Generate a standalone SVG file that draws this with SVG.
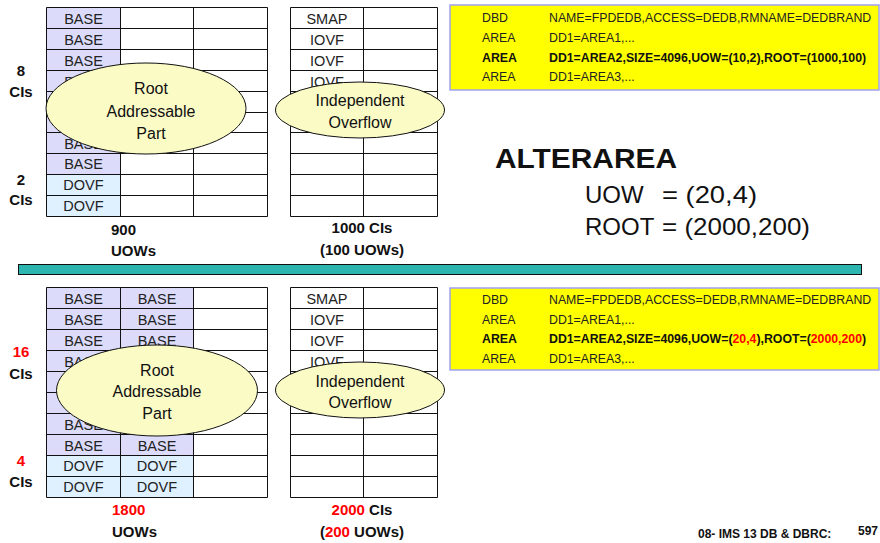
<svg xmlns="http://www.w3.org/2000/svg" width="880" height="543" viewBox="0 0 880 543">
<style>
text{font-family:"Liberation Sans",Arial,Helvetica,sans-serif;}
.grid{fill:none;stroke:#111;stroke-width:1;}
.base{fill:#dcdcfa;}
.dovf{fill:#dff0ff;}
.cell{font-size:14.5px;fill:#222;text-anchor:middle;}
.ell{fill:#fbfbc6;stroke:#111;stroke-width:1;}
.et{font-size:16px;fill:#111;text-anchor:middle;}
.lbl{font-size:15px;font-weight:bold;fill:#111;text-anchor:middle;}
.lbls{font-size:15px;font-weight:bold;fill:#111;}
.red{fill:#ff0000;}
.ybox{fill:#ffff00;stroke:#a0a0f0;stroke-width:1.5;}
.yt{font-size:12.3px;fill:#222;}
.yb{font-size:12.3px;font-weight:bold;fill:#111;}
.big{font-size:24px;fill:#111;}
.foot{font-size:12px;font-weight:bold;fill:#111;}
</style>

<!-- ===== TOP HALF ===== -->
<g id="top-root-grid">
  <rect class="base" x="46.5" y="7.5" width="74" height="167"/>
  <rect class="dovf" x="46.5" y="174.5" width="74" height="42"/>
  <path class="grid" d="M46.5 7.5H267.5V216.5H46.5Z M120.5 7.5V216.5 M193.5 7.5V216.5 M46.5 28.5H267.5 M46.5 49.5H267.5 M46.5 70.5H267.5 M46.5 91.5H267.5 M46.5 112.5H267.5 M46.5 132.5H267.5 M46.5 153.5H267.5 M46.5 174.5H267.5 M46.5 195.5H267.5"/>
  <text class="cell" x="83.5" y="23.5">BASE</text>
  <text class="cell" x="83.5" y="44.5">BASE</text>
  <text class="cell" x="83.5" y="65.5">BASE</text>
  <text class="cell" x="83.5" y="86.5">BASE</text>
  <text class="cell" x="83.5" y="148.5">BASE</text>
  <text class="cell" x="83.5" y="169">BASE</text>
  <text class="cell" x="83.5" y="189.5">DOVF</text>
  <text class="cell" x="83.5" y="210.5">DOVF</text>
</g>
<g id="top-root-labels">
  <text class="lbl" x="21" y="76">8</text>
  <text class="lbl" x="21" y="97">CIs</text>
  <text class="lbl" x="21" y="185">2</text>
  <text class="lbl" x="21" y="205">CIs</text>
  <text class="lbls" x="111" y="235">900</text>
  <text class="lbls" x="111" y="256">UOWs</text>
</g>
<g id="top-root-ellipse">
  <ellipse class="ell" cx="146" cy="108.5" rx="100" ry="45.5"/>
  <text class="et" x="151" y="94">Root</text>
  <text class="et" x="151" y="116.5">Addressable</text>
  <text class="et" x="151" y="139">Part</text>
</g>

<g id="top-iovf-grid">
  <path class="grid" d="M290.5 7.5H437.5V216.5H290.5Z M363.5 7.5V216.5 M290.5 28.5H437.5 M290.5 49.5H437.5 M290.5 70.5H437.5 M290.5 91.5H437.5 M290.5 112.5H437.5 M290.5 132.5H437.5 M290.5 153.5H437.5 M290.5 174.5H437.5 M290.5 195.5H437.5"/>
  <text class="cell" x="327" y="23.5">SMAP</text>
  <text class="cell" x="327" y="44.5">IOVF</text>
  <text class="cell" x="327" y="65.5">IOVF</text>
  <text class="cell" x="327" y="86.5">IOVF</text>
  <text class="lbl" x="362" y="233">1000 CIs</text>
  <text class="lbl" x="362" y="255">(100 UOWs)</text>
</g>
<g id="top-iovf-ellipse">
  <ellipse class="ell" cx="360" cy="110" rx="84.5" ry="28"/>
  <text class="et" x="360" y="106">Independent</text>
  <text class="et" x="360" y="127.5">Overflow</text>
</g>

<g id="top-dbd">
  <rect class="ybox" x="450" y="5" width="429" height="85"/>
  <text class="yt" x="482" y="22">DBD</text>
  <text class="yt" x="549" y="22">NAME=FPDEDB,ACCESS=DEDB,RMNAME=DEDBRAND</text>
  <text class="yt" x="482" y="42">AREA</text>
  <text class="yt" x="549" y="42">DD1=AREA1,...</text>
  <text class="yb" x="482" y="61.5">AREA</text>
  <text class="yb" x="549" y="61.5">DD1=AREA2,SIZE=4096,UOW=(10,2),ROOT=(1000,100)</text>
  <text class="yt" x="482" y="81">AREA</text>
  <text class="yt" x="549" y="81">DD1=AREA3,...</text>
</g>

<g id="alterarea">
  <text x="495" y="168" font-size="27" font-weight="bold" fill="#111" textLength="182" lengthAdjust="spacingAndGlyphs">ALTERAREA</text>
  <text class="big" x="585" y="203">UOW</text>
  <text class="big" x="662" y="203" textLength="95" lengthAdjust="spacingAndGlyphs">= (20,4)</text>
  <text class="big" x="585" y="235">ROOT</text>
  <text class="big" x="662" y="235" textLength="148" lengthAdjust="spacingAndGlyphs">= (2000,200)</text>
</g>

<g id="divider">
  <rect x="18.5" y="264.5" width="843" height="10" fill="#2db5b0" stroke="#111" stroke-width="1"/>
</g>

<!-- ===== BOTTOM HALF ===== -->
<g id="bottom-root-grid">
  <rect class="base" x="46.5" y="287.5" width="147" height="168"/>
  <rect class="dovf" x="46.5" y="455.5" width="147" height="42"/>
  <path class="grid" d="M46.5 287.5H267.5V497.5H46.5Z M120.5 287.5V497.5 M193.5 287.5V497.5 M46.5 308.5H267.5 M46.5 329.5H267.5 M46.5 350.5H267.5 M46.5 371.5H267.5 M46.5 392.5H267.5 M46.5 413.5H267.5 M46.5 434.5H267.5 M46.5 455.5H267.5 M46.5 476.5H267.5"/>
  <text class="cell" x="83.5" y="303.5">BASE</text><text class="cell" x="157" y="303.5">BASE</text>
  <text class="cell" x="83.5" y="324.5">BASE</text><text class="cell" x="157" y="324.5">BASE</text>
  <text class="cell" x="83.5" y="345.5">BASE</text><text class="cell" x="157" y="345.5">BASE</text>
  <text class="cell" x="83.5" y="366.5">BASE</text>
  <text class="cell" x="83.5" y="429.5">BASE</text>
  <text class="cell" x="83.5" y="450.5">BASE</text><text class="cell" x="157" y="450.5">BASE</text>
  <text class="cell" x="83.5" y="471">DOVF</text><text class="cell" x="157" y="471">DOVF</text>
  <text class="cell" x="83.5" y="492">DOVF</text><text class="cell" x="157" y="492">DOVF</text>
</g>
<g id="bottom-root-labels">
  <text class="lbl red" x="21" y="357">16</text>
  <text class="lbl" x="21" y="378.5">CIs</text>
  <text class="lbl red" x="21" y="466">4</text>
  <text class="lbl" x="21" y="487">CIs</text>
  <text class="lbls red" x="112" y="515">1800</text>
  <text class="lbls" x="112" y="537">UOWs</text>
</g>
<g id="bottom-root-ellipse">
  <ellipse class="ell" cx="157" cy="390.5" rx="100.5" ry="45.5"/>
  <text class="et" x="157" y="375.5">Root</text>
  <text class="et" x="157" y="397">Addressable</text>
  <text class="et" x="157" y="419">Part</text>
</g>

<g id="bottom-iovf-grid">
  <path class="grid" d="M290.5 287.5H437.5V497.5H290.5Z M363.5 287.5V497.5 M290.5 308.5H437.5 M290.5 329.5H437.5 M290.5 350.5H437.5 M290.5 371.5H437.5 M290.5 392.5H437.5 M290.5 413.5H437.5 M290.5 434.5H437.5 M290.5 455.5H437.5 M290.5 476.5H437.5"/>
  <text class="cell" x="327" y="303.5">SMAP</text>
  <text class="cell" x="327" y="324.5">IOVF</text>
  <text class="cell" x="327" y="345.5">IOVF</text>
  <text class="cell" x="327" y="366.5">IOVF</text>
  <text class="lbl" x="362" y="515"><tspan class="red">2000</tspan> CIs</text>
  <text class="lbl" x="362" y="537">(<tspan class="red">200</tspan> UOWs)</text>
</g>
<g id="bottom-iovf-ellipse">
  <ellipse class="ell" cx="360" cy="390" rx="84.5" ry="28"/>
  <text class="et" x="360" y="386.5">Independent</text>
  <text class="et" x="360" y="408">Overflow</text>
</g>

<g id="bottom-dbd">
  <rect class="ybox" x="450" y="288" width="429" height="82"/>
  <text class="yt" x="482" y="304">DBD</text>
  <text class="yt" x="549" y="304">NAME=FPDEDB,ACCESS=DEDB,RMNAME=DEDBRAND</text>
  <text class="yt" x="482" y="324">AREA</text>
  <text class="yt" x="549" y="324">DD1=AREA1,...</text>
  <text class="yb" x="482" y="343">AREA</text>
  <text class="yb" x="549" y="343">DD1=AREA2,SIZE=4096,UOW=(<tspan class="red">20,4</tspan>),ROOT=(<tspan class="red">2000,200</tspan>)</text>
  <text class="yt" x="482" y="362.5">AREA</text>
  <text class="yt" x="549" y="362.5">DD1=AREA3,...</text>
</g>

<g id="footer">
  <text class="foot" x="698" y="538">08- IMS 13 DB &amp; DBRC:</text>
  <text class="foot" x="858" y="535">597</text>
</g>
<g id="connectors"/>
</svg>
